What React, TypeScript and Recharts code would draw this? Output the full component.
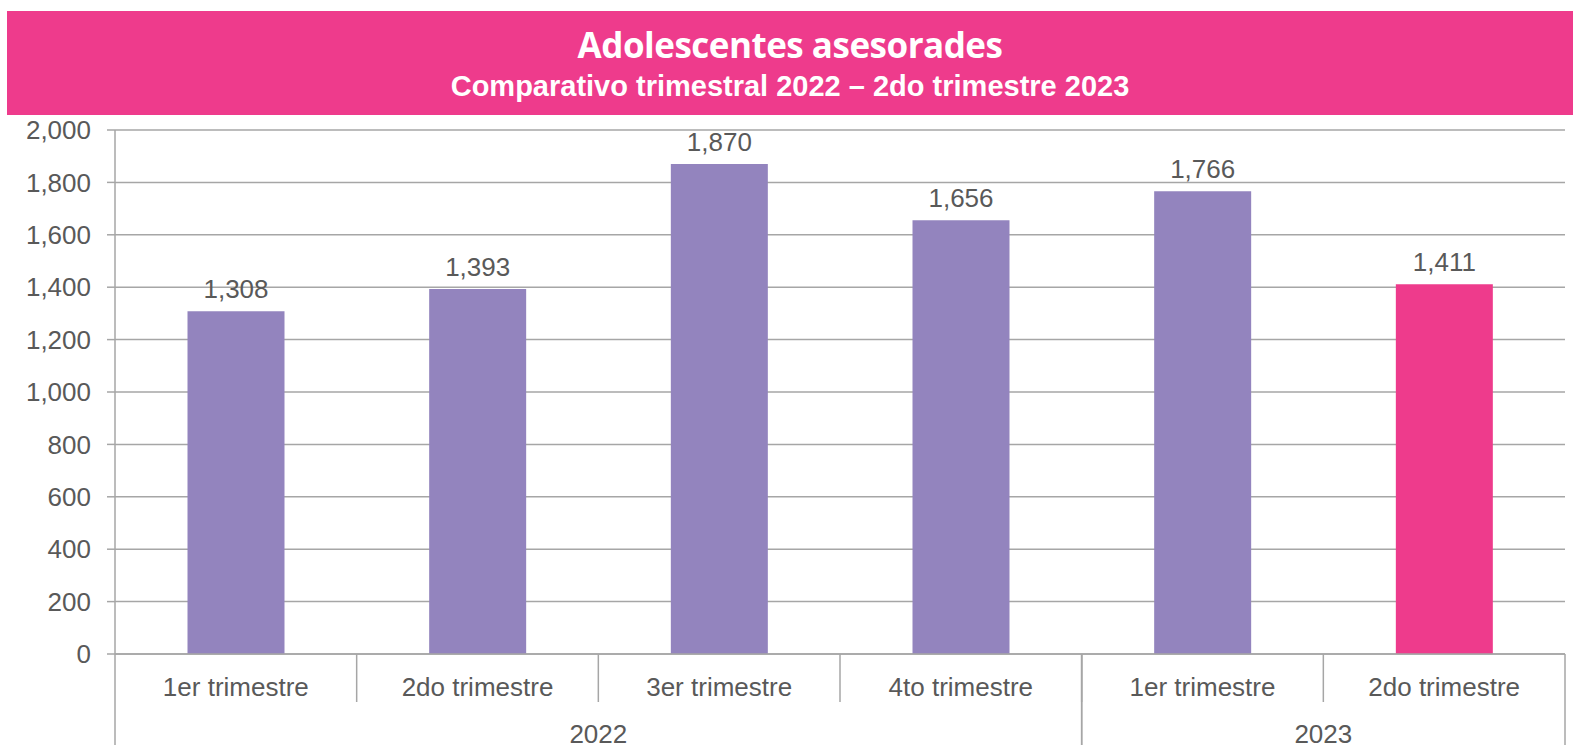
import React from 'react';
import {
  BarChart, Bar, XAxis, YAxis, CartesianGrid, Cell, LabelList
} from 'recharts';

const QUARTERS = ['1er trimestre', '2do trimestre', '3er trimestre', '4to trimestre', '1er trimestre', '2do trimestre'];
const YEARS = ['2022', '2022', '2022', '2022', '2023', '2023'];
const VALUES = [1308, 1393, 1870, 1656, 1766, 1411];
const Y_TICKS = [0, 200, 400, 600, 800, 1000, 1200, 1400, 1600, 1800, 2000];

const W = 1573;
const H = 745;
const PLOT_LEFT = 115;
const PLOT_RIGHT = 8;
const PLOT_BOTTOM = 654;
const BAND = (W - PLOT_LEFT - PLOT_RIGHT) / QUARTERS.length;

const PURPLE = '#9384BE';
const PINK = '#EE3B8C';
const TEXT = '#595959';
const LINE = '#a6a6a6';
const FONT = '"Liberation Sans", Arial, sans-serif';
const FS = 26;

const data = QUARTERS.map((q, i) => ({ id: i, quarter: q, year: YEARS[i], value: VALUES[i] }));

const fmt = (v: number) => v.toLocaleString('en-US');

const QuarterTick = (props: any) => {
  const { x, y, index } = props;
  const last = index === QUARTERS.length - 1;
  return (
    <g>
      <text x={x} y={y + 42} textAnchor="middle" fill={TEXT} fontSize={FS} fontFamily={FONT}>
        {QUARTERS[index]}
      </text>
      {!last && (
        <line x1={x + BAND / 2} x2={x + BAND / 2} y1={y} y2={y + 48} stroke={LINE} strokeWidth={1.5} />
      )}
    </g>
  );
};

const YearTick = (props: any) => {
  const { x, y, index } = props;
  const year = YEARS[index];
  const first = index === 0 || YEARS[index - 1] !== year;
  const lastInGroup = index === YEARS.length - 1 || YEARS[index + 1] !== year;
  const groupIdx = YEARS.map((v, i) => (v === year ? i : -1)).filter((i) => i >= 0);
  const mid = (groupIdx[0] + groupIdx[groupIdx.length - 1]) / 2;
  const showLabel = index === Math.floor(mid);
  const labelX = x + (mid - index) * BAND;
  return (
    <g>
      {showLabel && (
        <text x={labelX} y={y + 41} textAnchor="middle" fill={TEXT} fontSize={FS} fontFamily={FONT}>
          {year}
        </text>
      )}
      {first && (
        <line x1={x - BAND / 2} x2={x - BAND / 2} y1={PLOT_BOTTOM} y2={H} stroke={LINE} strokeWidth={1.5} />
      )}
      {lastInGroup && (
        <line x1={x + BAND / 2} x2={x + BAND / 2} y1={PLOT_BOTTOM} y2={H} stroke={LINE} strokeWidth={1.5} />
      )}
    </g>
  );
};

export default function App() {
  return (
    <div style={{ position: 'absolute', left: 0, top: 0, width: W, height: H, background: '#fff' }}>
      <div
        style={{
          position: 'absolute', left: 7, top: 11, width: W - 7, height: 104,
          background: PINK, color: '#fff', textAlign: 'center', zIndex: 2,
        }}
      >
        <div style={{ fontFamily: '"Open Sans", sans-serif', fontWeight: 700, fontSize: 35, lineHeight: '42px', marginTop: 13, letterSpacing: -0.5 }}>
          Adolescentes asesorades
        </div>
        <div style={{ fontFamily: FONT, fontWeight: 700, fontSize: 29, lineHeight: '32px', marginTop: 4 }}>
          Comparativo trimestral 2022 – 2do trimestre 2023
        </div>
      </div>
      <BarChart
        width={W}
        height={H}
        data={data}
        margin={{ top: 130, right: PLOT_RIGHT, left: 15, bottom: 0 }}
        barCategoryGap="30%"
      >
        <CartesianGrid vertical={false} stroke={LINE} strokeWidth={1.5} />
        <XAxis
          dataKey="id"
          interval={0}
          height={48}
          axisLine={{ stroke: LINE, strokeWidth: 1.5 }}
          tickLine={false}
          tickSize={0}
          tickMargin={0}
          tick={<QuarterTick />}
        />
        <XAxis
          xAxisId="year"
          dataKey="id"
          interval={0}
          height={43}
          axisLine={false}
          tickLine={false}
          tickSize={0}
          tickMargin={0}
          tick={<YearTick />}
        />
        <YAxis
          width={100}
          domain={[0, 2000]}
          ticks={Y_TICKS}
          tickFormatter={fmt}
          axisLine={{ stroke: LINE, strokeWidth: 1.5 }}
          tickLine={{ stroke: LINE, strokeWidth: 1.5 }}
          tickSize={8}
          tickMargin={16}
          tick={{ fill: TEXT, fontSize: FS, fontFamily: FONT }}
        />
        <Bar dataKey="value" isAnimationActive={false}>
          {data.map((d, i) => (
            <Cell key={i} fill={i === data.length - 1 ? PINK : PURPLE} />
          ))}
          <LabelList
            dataKey="value"
            position="top"
            offset={13}
            formatter={(v: any) => fmt(Number(v))}
            fill={TEXT}
            fontSize={FS}
            fontFamily={FONT}
          />
        </Bar>
      </BarChart>
    </div>
  );
}
